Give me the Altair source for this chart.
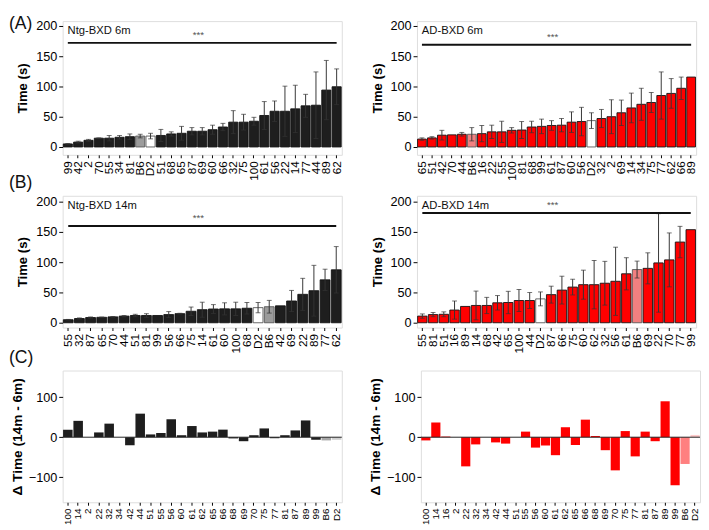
import altair as alt
import pandas as pd

FONT = "Liberation Sans"

# ---------------- (A) 6 months ----------------
ntg6_strain = ["99", "42", "2", "70", "55", "34", "81", "B6", "D2", "51", "68", "65", "87", "69",
               "60", "66", "32", "75", "100", "61", "56", "22", "14", "77", "44", "89", "62"]
ntg6_mean = [5, 8, 11, 14.5, 14.5, 16, 17, 18, 18, 19, 21.5, 22.6, 26, 26,
             28.5, 33, 41, 41, 42.5, 52, 59, 59, 63, 68, 69, 94, 99.5]
ntg6_err = [0.5, 1.5, 1.5, 0.5, 4.5, 3, 4.5, 3, 4.6, 10, 3.5, 11.4, 6, 6,
            7.5, 6, 19, 13, 6.5, 23, 17, 41.5, 39, 19, 55, 49, 29.5]

ad6_strain = ["65", "51", "42", "70", "44", "B6", "16", "22", "55", "100", "81", "68", "99", "61",
              "87", "60", "56", "D2", "32", "2", "69", "14", "34", "75", "77", "62", "66", "89"]
ad6_mean = [13, 15, 19.5, 20, 21, 21, 22, 25, 25, 27.5, 28, 33, 34, 35.5,
            36, 41, 42, 43.5, 47, 50, 56.5, 64.5, 70.5, 73.5, 85, 88.5, 97, 115.5]
ad6_err = [2, 2, 8, 0, 3, 11, 13.5, 11, 17.5, 4.5, 14, 9.5, 12, 8,
           11, 17, 23.5, 13, 15, 28, 21, 24.5, 26.5, 16.5, 39, 24.5, 18.5, 0]

# ---------------- (B) 14 months ----------------
ntg14_strain = ["55", "32", "87", "65", "70", "44", "51", "81", "99", "56", "66", "75", "14",
                "61", "60", "100", "68", "D2", "B6", "42", "69", "22", "89", "77", "62"]
ntg14_mean = [5, 7, 8.6, 9, 9.7, 11, 12, 12, 12, 13.5, 15, 19, 21.6,
              22.7, 23, 23, 24, 25, 26.5, 28, 36, 47, 53, 71, 87.6]
ntg14_err = [0.5, 1, 1, 0.5, 0.5, 1, 2, 3, 0, 5, 0.7, 7, 12.4,
             7.3, 10, 11, 9.5, 8.5, 10.5, 0, 17.5, 26.5, 42, 17.6, 38.4]

ad14_strain = ["55", "81", "51", "16", "89", "14", "68", "42", "65", "100", "44", "D2", "87",
               "66", "75", "60", "62", "32", "56", "61", "B6", "69", "22", "70", "77", "99"]
ad14_mean = [11, 13.5, 14, 21, 27, 28.6, 28.6, 33, 33.5, 36.8, 36.8, 39.5, 46.5,
             54, 59, 63, 63, 65.4, 68.6, 81, 88, 90, 99, 104, 133.5, 154]
ad14_err = [3.6, 3.5, 4, 15, 0, 23.8, 13.4, 12, 18.5, 18.2, 13.2, 11.5, 14,
            23, 13, 24, 40, 36.2, 56.4, 26.6, 14, 25.7, 81.5, 44.6, 26, 0]

# ---------------- (C) change 14m - 6m ----------------
ntg_d_strain = ["100", "14", "2", "22", "32", "34", "42", "44", "51", "55", "56", "60", "61", "62",
                "65", "66", "68", "69", "70", "75", "77", "81", "87", "89", "99", "B6", "D2"]
ntg_d_val = [18.7, 41, None, 12, 34, None, -20, 59, 7, 10.5, 45, 5, 28, 12,
             14, 19, -3, -10, 5, 22, -2.5, 5, 17, 42, -6.5, -8, -6.5]

ad_d_strain = ["100", "14", "16", "2", "22", "32", "34", "42", "44", "51", "55", "56", "60", "61",
               "62", "65", "66", "68", "69", "70", "75", "77", "81", "87", "89", "99", "B6", "D2"]
ad_d_val = [-8, 36.6, 1.6, None, -73, -18, None, -13, -16, None, 14, -26, -21, -45,
            25, -19.5, 44, 3, -32.5, -83, 15.4, -48, 14, -10, 90, -120, -67, 5.7]

KINDS = ["BXD", "B6", "D2"]
NTG_FILL = ["#1e1e1e", "#9b9b9b", "#ffffff"]
AD_FILL = ["#ff0000", "#f28080", "#ffffff"]
BAR_STROKE = ["#111111", "#555555", "#555555"]
NTG_D_FILL = ["#1e1e1e", "#a8a8a8", "#cfcfcf"]
AD_D_FILL = ["#ff0000", "#ff8080", "#ffcccc"]

W = 286


def kinds(strains):
    return [s if s in ("B6", "D2") else "BXD" for s in strains]


def letter_layer(letter, y):
    return alt.Chart(pd.DataFrame({"t": [letter]})).mark_text(
        font=FONT, fontSize=18, align="left", baseline="top", color="#111111").encode(
        x=alt.value(-55), y=alt.value(y), text="t:N")


def bar_panel(strains, means, errs, fills, label, sig_y, height, domain, letters=()):
    df = pd.DataFrame({"strain": strains, "mean": means, "err": errs})
    df["kind"] = kinds(strains)
    df["lo"] = df["mean"] - df["err"]
    df["hi"] = df["mean"] + df["err"]
    xs = alt.Scale(domain=strains, paddingInner=0.12, paddingOuter=0.06)
    xax = alt.Axis(labelAngle=-90, labelFontSize=12, labelPadding=3, tickSize=3,
                   labelColor="#000", tickColor="#000", domain=False, title=None)
    ys = alt.Scale(domain=domain, nice=False, zero=False)
    yax = alt.Axis(values=[0, 50, 100, 150, 200], title="Time (s)", titleFontSize=13.5,
                   titleFontWeight="bold", titlePadding=6, labelFontSize=13, tickSize=4,
                   labelColor="#000", tickColor="#000", domain=False, grid=False, labelPadding=2,
                   labelOverlap=False)
    X = alt.X("strain:N", scale=xs, axis=xax)
    base = alt.Chart(df)
    bars = base.mark_bar(strokeWidth=0.9).encode(
        x=X,
        y=alt.Y("mean:Q", scale=ys, axis=yax),
        fill=alt.Fill("kind:N", scale=alt.Scale(domain=KINDS, range=fills), legend=None),
        stroke=alt.Stroke("kind:N", scale=alt.Scale(domain=KINDS, range=BAR_STROKE), legend=None),
    )
    eb_base = base.transform_filter("datum.err > 0")
    whisk = eb_base.mark_rule(color="#333333", strokeWidth=1).encode(
        x=X, y=alt.Y("lo:Q", scale=ys, axis=yax), y2="hi:Q")
    cap_hi = eb_base.mark_tick(color="#333333", thickness=1, size=5, orient="horizontal").encode(
        x=X, y=alt.Y("hi:Q", scale=ys, axis=yax))
    cap_lo = eb_base.mark_tick(color="#333333", thickness=1, size=5, orient="horizontal").encode(
        x=X, y=alt.Y("lo:Q", scale=ys, axis=yax))
    sig = pd.DataFrame({"strain": [strains[0]], "b": [strains[-1]], "mean": [sig_y], "t": ["***"]})
    sig_line = alt.Chart(sig).mark_rule(color="#111111", strokeWidth=2).encode(
        x=X, x2="b:N", y=alt.Y("mean:Q", scale=ys, axis=yax))
    sig_txt = alt.Chart(sig).mark_text(font=FONT, fontSize=10, color="#555555", baseline="middle").encode(
        x=alt.value(W / 2 - 4), y=alt.Y("mean:Q", scale=ys, axis=yax), yOffset=alt.value(-8), text="t:N")
    lab = alt.Chart(pd.DataFrame({"t": [label]})).mark_text(
        font=FONT, fontSize=11.5, align="left", baseline="top", color="#111111").encode(
        x=alt.value(5), y=alt.value(4), text="t:N")
    layers = [bars, whisk, cap_hi, cap_lo, sig_line, sig_txt, lab]
    for letter, ly in letters:
        layers.append(letter_layer(letter, ly))
    return alt.layer(*layers).properties(width=W, height=height)


def delta_panel(strains, vals, fills):
    df = pd.DataFrame({"strain": strains, "val": vals})
    df["kind"] = kinds(strains)
    xs = alt.Scale(domain=strains, paddingInner=0.08, paddingOuter=0.04)
    xax = alt.Axis(labelAngle=-90, labelFontSize=10, labelPadding=3, tickSize=3,
                   labelColor="#000", tickColor="#000", domain=False, title=None)
    ys = alt.Scale(domain=[-163, 167], nice=False, zero=False)
    yax = alt.Axis(values=[-100, 0, 100], title="Δ Time (14m - 6m)", titleFontSize=14,
                   titleFontWeight="bold", titlePadding=4, labelFontSize=13, tickSize=4,
                   labelColor="#000", tickColor="#000", domain=False, grid=False, labelPadding=2,
                   labelOverlap=False)
    bars = alt.Chart(df).mark_bar().encode(
        x=alt.X("strain:N", scale=xs, axis=xax),
        y=alt.Y("val:Q", scale=ys, axis=yax),
        fill=alt.Fill("kind:N", scale=alt.Scale(domain=KINDS, range=fills), legend=None),
    )
    zero = alt.Chart(pd.DataFrame({"val": [0]})).mark_rule(color="#222222", strokeWidth=1).encode(
        y=alt.Y("val:Q", scale=ys, axis=yax))
    return alt.layer(bars, zero).properties(width=W, height=135)


a_l = bar_panel(ntg6_strain, ntg6_mean, ntg6_err, NTG_FILL, "Ntg-BXD 6m", 172, 137, [-13, 208],
                letters=[("(A)", -6), ("(B)", 157)])
a_r = bar_panel(ad6_strain, ad6_mean, ad6_err, AD_FILL, "AD-BXD 6m", 169, 137, [-13, 208])
b_l = bar_panel(ntg14_strain, ntg14_mean, ntg14_err, NTG_FILL, "Ntg-BXD 14m", 160, 135, [-8, 210],
                letters=[("(C)", 157)])
b_r = bar_panel(ad14_strain, ad14_mean, ad14_err, AD_FILL, "AD-BXD 14m", 181.6, 135, [-8, 210])
c_l = delta_panel(ntg_d_strain, ntg_d_val, NTG_D_FILL)
c_r = delta_panel(ad_d_strain, ad_d_val, AD_D_FILL)

row1 = alt.hconcat(a_l, a_r, spacing=27).resolve_scale(fill="independent", stroke="independent")
row2 = alt.hconcat(b_l, b_r, spacing=27).resolve_scale(fill="independent", stroke="independent")
row3 = alt.hconcat(c_l, c_r, spacing=26).resolve_scale(fill="independent")

chart = alt.vconcat(row1, row2, row3, spacing=2, padding=0).resolve_scale(
    fill="independent", stroke="independent"
).configure_view(
    stroke="#000000", strokeWidth=1.2
).configure_axis(labelFont=FONT, titleFont=FONT, titleColor="#000").configure(background="white")

chart.save("out.html", embed_options={"renderer": "svg", "actions": False})
